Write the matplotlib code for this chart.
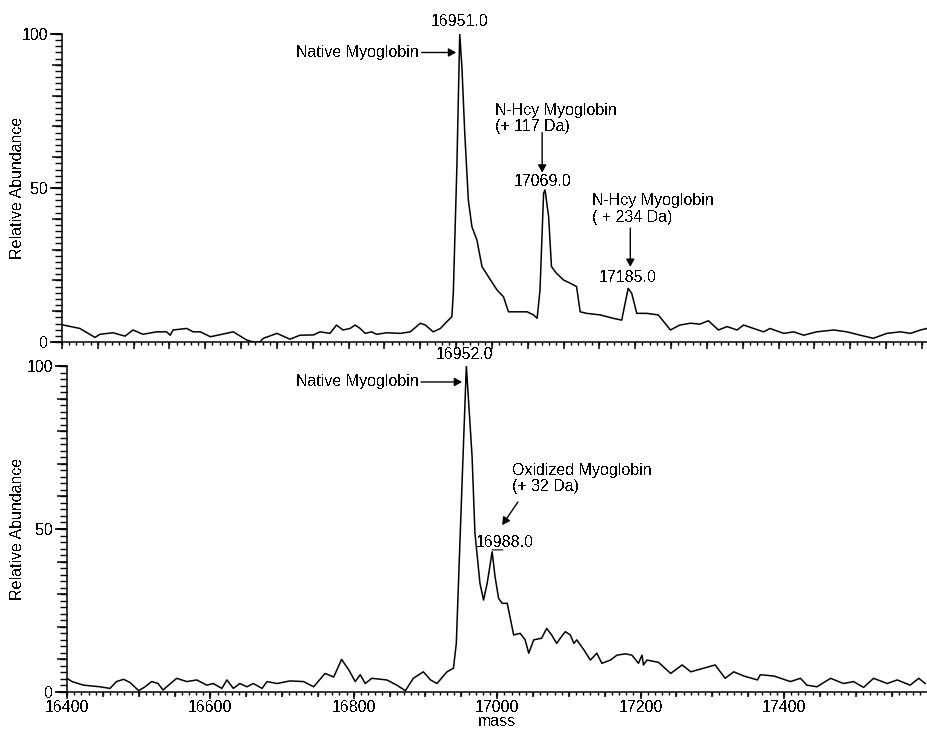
import matplotlib
matplotlib.use("Agg")
import matplotlib.pyplot as plt
from matplotlib.ticker import MultipleLocator, NullFormatter

plt.rcParams["font.family"] = ["Liberation Sans", "DejaVu Sans"]
plt.rcParams["font.size"] = 11.5
plt.rcParams["text.antialiased"] = False

# top spectrum (N-Hcy modified myoglobin)
top_mass = [16402, 16425, 16446, 16453, 16471, 16488, 16499, 16513, 16532, 16546,
            16551, 16555, 16574, 16583, 16593, 16607, 16639, 16658, 16667, 16676,
            16681, 16700, 16718, 16732, 16751, 16760, 16774, 16783, 16792, 16802,
            16809, 16816, 16823, 16832, 16839, 16853, 16872, 16886, 16900, 16907,
            16918, 16928, 16937, 16944, 16946, 16951, 16953, 16955, 16958, 16962,
            16967, 16972, 16979, 16986, 16995, 17007, 17016, 17023, 17035, 17049,
            17058, 17063, 17067, 17072, 17074, 17079, 17083, 17090, 17100, 17109,
            17118, 17123, 17132, 17151, 17169, 17181, 17190, 17195, 17202, 17216,
            17232, 17249, 17262, 17277, 17290, 17302, 17316, 17328, 17342, 17351,
            17365, 17379, 17388, 17407, 17421, 17435, 17453, 17477, 17495, 17514,
            17532, 17551, 17570, 17584, 17598, 17607]
top_abund = [5.5, 4.4, 1.5, 2.5, 3.0, 1.9, 3.9, 2.5, 3.3, 3.3,
             2.2, 3.9, 4.4, 3.3, 3.3, 1.7, 3.3, 0.6, 0.0, 0.0,
             1.2, 2.8, 0.9, 2.2, 2.3, 3.3, 2.8, 5.5, 3.9, 4.4,
             5.5, 4.4, 2.8, 3.3, 2.5, 3.0, 2.8, 3.3, 6.1, 5.5,
             3.3, 4.4, 6.6, 8.2, 15.8, 56.9, 78.6, 100.0, 89.4, 67.8,
             46.1, 37.4, 33.1, 24.5, 21.2, 16.9, 14.7, 9.8, 9.8, 9.8,
             8.8, 7.7, 16.9, 48.3, 49.4, 40.7, 24.5, 22.3, 20.1, 19.1,
             18.0, 9.8, 9.3, 8.8, 7.7, 7.1, 17.4, 15.8, 9.3, 9.3,
             8.8, 3.9, 5.5, 6.1, 5.8, 6.9, 3.9, 5.0, 3.9, 5.5,
             4.4, 3.3, 4.4, 2.8, 3.3, 2.2, 3.3, 3.9, 3.3, 2.2,
             1.2, 2.8, 3.3, 2.8, 3.9, 4.4]

# bottom spectrum (oxidized myoglobin)
bot_mass = [16400, 16407, 16423, 16446, 16460, 16469, 16479, 16488, 16500, 16509,
            16518, 16527, 16534, 16539, 16553, 16567, 16581, 16595, 16604, 16616,
            16623, 16632, 16641, 16651, 16660, 16672, 16679, 16693, 16711, 16730,
            16744, 16760, 16772, 16783, 16793, 16802, 16809, 16816, 16825, 16846,
            16860, 16872, 16883, 16897, 16907, 16916, 16930, 16939, 16943, 16946,
            16951, 16957, 16960, 16965, 16969, 16976, 16981, 16986, 16993, 16997,
            17002, 17007, 17014, 17023, 17032, 17039, 17044, 17051, 17062, 17069,
            17076, 17083, 17088, 17095, 17102, 17107, 17111, 17121, 17130, 17139,
            17146, 17158, 17167, 17179, 17188, 17197, 17202, 17204, 17209, 17225,
            17242, 17258, 17270, 17288, 17304, 17318, 17330, 17344, 17363, 17367,
            17386, 17409, 17423, 17432, 17446, 17465, 17483, 17497, 17511, 17525,
            17544, 17558, 17576, 17588, 17597]
bot_abund = [4.2, 3.2, 2.1, 1.6, 1.1, 3.2, 3.9, 2.9, 0.4, 1.6,
             3.2, 2.6, 0.6, 1.6, 4.2, 3.2, 3.7, 2.1, 2.6, 1.1,
             3.7, 1.1, 2.6, 1.6, 2.6, 1.1, 3.2, 2.6, 3.4, 3.2,
             1.6, 5.7, 4.6, 10.0, 6.8, 3.2, 5.3, 2.6, 4.2, 3.7,
             2.1, 0.4, 4.2, 6.2, 3.7, 2.6, 6.2, 7.3, 14.9, 33.3,
             64.0, 100.0, 89.6, 72.2, 48.7, 33.3, 28.2, 33.3, 43.0, 35.4,
             28.7, 27.2, 27.2, 17.5, 18.0, 16.0, 11.9, 16.0, 16.5, 19.5,
             17.5, 14.9, 16.5, 18.5, 17.5, 14.9, 16.0, 12.9, 9.8, 11.9,
             8.8, 9.8, 11.3, 11.7, 11.3, 8.8, 11.3, 8.3, 9.8, 9.1,
             5.7, 8.3, 6.2, 7.3, 8.3, 4.2, 6.2, 4.9, 3.7, 5.3,
             4.9, 3.2, 4.2, 2.1, 1.6, 4.2, 2.6, 3.2, 1.4, 4.2,
             2.6, 3.7, 2.1, 4.2, 2.6]


def extra_ticks(ax, which, step, length, width=1.0):
    # additional tier of unlabeled ticks, drawn on a secondary axis
    if which == "x":
        sec = ax.secondary_xaxis("bottom")
        axis = sec.xaxis
    else:
        sec = ax.secondary_yaxis("left")
        axis = sec.yaxis
    axis.set_major_locator(MultipleLocator(step))
    axis.set_major_formatter(NullFormatter())
    sec.tick_params(which="major", length=length, width=width)
    for sp in sec.spines.values():
        sp.set_visible(False)


def style_axes(ax, xlim, show_xlabels):
    ax.set_xlim(*xlim)
    ax.set_ylim(0, 100)
    for side in ("top", "right"):
        ax.spines[side].set_visible(False)
    ax.spines["left"].set_linewidth(1.1)
    ax.spines["bottom"].set_linewidth(1.1)
    ax.set_yticks([0, 50, 100])
    ax.set_ylabel("Relative Abundance")
    ax.tick_params(axis="y", which="major", length=9, width=1.2, pad=1)
    ax.tick_params(axis="x", which="major", length=5, width=1.1, pad=1)
    if show_xlabels:
        ax.xaxis.set_major_locator(MultipleLocator(200))
        extra_ticks(ax, "x", 50, 3.5, 1.1)
    else:
        ax.xaxis.set_major_locator(MultipleLocator(50))
        ax.xaxis.set_major_formatter(NullFormatter())
    extra_ticks(ax, "x", 10, 2.5)
    extra_ticks(ax, "y", 10, 7, 1.1)
    extra_ticks(ax, "y", 2, 5)


fig = plt.figure(figsize=(9.27, 7.30), dpi=100)
ax1 = fig.add_axes([62 / 927, 388 / 730, 865 / 927, 308 / 730])
ax2 = fig.add_axes([67 / 927, 38 / 730, 860 / 927, 326 / 730])

ax1.plot(top_mass, top_abund, color="black", lw=1.1)
ax2.plot(bot_mass, bot_abund, color="black", lw=1.1)

style_axes(ax1, (16400, 17607), False)
style_axes(ax2, (16400, 17599.5), True)
ax1.yaxis.set_label_coords(-0.043, 0.5)
ax2.yaxis.set_label_coords(-0.049, 0.5)
ax2.set_xlabel("mass", labelpad=-1)

arrow = dict(arrowstyle="-|>,head_length=0.45,head_width=0.25", color="black",
             lw=1.0, shrinkA=0, shrinkB=0, mutation_scale=10)

# top panel labels
ax1.text(16955, 104, "16951.0", ha="center", va="center", clip_on=False)
ax1.annotate("Native Myoglobin", xy=(16950, 94), xytext=(16898, 94),
             ha="right", va="center", arrowprops=arrow)
ax1.text(17004, 72.5, "N-Hcy Myoglobin\n(+ 117 Da)", ha="left", va="center",
         linespacing=1.1)
ax1.annotate("", xy=(17070, 55), xytext=(17070, 68), arrowprops=arrow)
ax1.text(17071, 52, "17069.0", ha="center", va="center")
ax1.text(17140, 43.2, "N-Hcy Myoglobin\n( + 234 Da)", ha="left", va="center",
         linespacing=1.1)
ax1.annotate("", xy=(17193, 24.4), xytext=(17193, 37), arrowprops=arrow)
ax1.text(17189, 21.1, "17185.0", ha="center", va="center")

# bottom panel labels
ax2.text(16955, 103.4, "16952.0", ha="center", va="center", clip_on=False)
ax2.annotate("Native Myoglobin", xy=(16951, 95.1), xytext=(16890, 95.1),
             ha="right", va="center", arrowprops=arrow)
ax2.text(17021, 65.6, "Oxidized Myoglobin\n(+ 32 Da)", ha="left", va="center",
         linespacing=1.1)
ax2.annotate("", xy=(17007, 51.2), xytext=(17029, 58.3), arrowprops=arrow)
ax2.text(17011, 46.0, "16988.0", ha="center", va="center")
ax2.annotate("", xy=(16993, 43.6), xytext=(17008, 43.6),
             arrowprops=dict(arrowstyle="-", color="black", lw=0.8,
                             shrinkA=0, shrinkB=0))

fig.savefig("out.png", dpi=100)
